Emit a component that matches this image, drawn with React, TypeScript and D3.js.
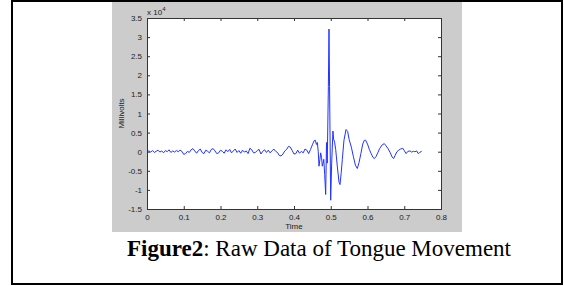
import React, { useEffect, useRef } from "react";
import * as d3 from "d3";

// time (s) and signal (millivolts)
const times: number[] = [
  0, 0.005, 0.01, 0.015, 0.02, 0.025, 0.03, 0.035, 0.04, 0.045,
  0.05, 0.055, 0.06, 0.065, 0.07, 0.075, 0.08, 0.085, 0.09, 0.095,
  0.1, 0.105, 0.11, 0.115, 0.12, 0.125, 0.13, 0.135, 0.14, 0.145,
  0.15, 0.155, 0.16, 0.165, 0.17, 0.175, 0.18, 0.185, 0.19, 0.195,
  0.2, 0.205, 0.21, 0.215, 0.22, 0.225, 0.23, 0.235, 0.24, 0.245,
  0.25, 0.255, 0.26, 0.265, 0.27, 0.275, 0.28, 0.285, 0.29, 0.295,
  0.3, 0.305, 0.31, 0.315, 0.32, 0.325, 0.33, 0.335, 0.34, 0.345,
  0.35, 0.355, 0.36, 0.365, 0.37, 0.375, 0.38, 0.385, 0.39, 0.395,
  0.4, 0.405, 0.41, 0.415, 0.42, 0.425, 0.43, 0.435, 0.44, 0.445,
  0.45, 0.455, 0.458, 0.461, 0.4635, 0.466, 0.468, 0.4705, 0.4726, 0.475,
  0.477, 0.479, 0.481, 0.4835, 0.4862, 0.4885, 0.4905, 0.4935, 0.4952, 0.4968,
  0.4998, 0.5025, 0.506, 0.5078, 0.5105, 0.5134, 0.518, 0.5225, 0.5252, 0.5285,
  0.5315, 0.536, 0.5415, 0.546, 0.55, 0.556, 0.5614, 0.567, 0.5723, 0.577,
  0.582, 0.587, 0.5914, 0.595, 0.6, 0.605, 0.61, 0.615, 0.6186, 0.623,
  0.628, 0.633, 0.64, 0.6458, 0.65, 0.656, 0.662, 0.667, 0.671, 0.675,
  0.68, 0.685, 0.69, 0.696, 0.7, 0.705, 0.71, 0.7156, 0.72, 0.725,
  0.729, 0.734, 0.738, 0.742, 0.7475,
];

const millivolts: number[] = [
  0, 200, -100, 300, -200, 100, 400, -100, 200, -300,
  300, 0, 500, -200, 200, -100, 300, 0, 400, 100,
  -700, -500, 100, -200, 500, 800, 200, -400, 300, 700,
  -200, -500, 400, 100, -300, 600, 800, 200, -500, -300,
  400, 100, -400, 500, 0, 600, -300, 200, 700, -200,
  300, -400, 400, -100, 200, -500, 900, 500, -300, -200,
  300, 600, -600, 100, 500, -200, 400, -300, 200, 700,
  100, -200, -1000, -1100, -600, 200, 600, 1400, 1200, 300,
  -600, -500, 400, -400, 100, -300, 700, 400, -500, 600,
  1800, 2900, 3000, 1900, 2400, 0, -3800, -2000, -300, -1500,
  -3800, -3000, -2000, -6000, -11200, 2400, -3000, 17000, 32100, 17000,
  -12700, -3000, 5400, 3300, 2500, 600, -4000, -8000, -8600, -5500,
  -2000, 3000, 5800, 5300, 3200, 1200, -1200, -3500, -4400, -2800,
  -500, 2000, 3000, 3000, 2000, 600, -500, -1500, -1800, -1300,
  -300, 800, 1800, 2100, 1600, 800, -300, -1400, -1800, -1000,
  0, 400, 700, 900, 300, -500, 100, 200, -100, 100,
  0, 200, -500, -200, 100,
];

const xTicks: number[] = [0, 0.1, 0.2, 0.3, 0.4, 0.5, 0.6, 0.7, 0.8];
const yTicks: number[] = [-15000, -10000, -5000, 0, 5000, 10000, 15000, 20000, 25000, 30000, 35000];

const App = () => {
  const svgRef = useRef<SVGSVGElement>(null);

  useEffect(() => {
    const svg = d3.select(svgRef.current);
    svg.selectAll("*").remove();

    const W = 564, H = 286;
    const plot = { left: 147, right: 441, top: 18, bottom: 209 };

    // outer box of the figure
    svg.append("rect")
      .attr("x", 12).attr("y", 1)
      .attr("width", 550).attr("height", 283)
      .attr("fill", "white")
      .attr("stroke", "black")
      .attr("stroke-width", 2);

    // matlab grey figure background
    svg.append("rect")
      .attr("x", 112).attr("y", 2)
      .attr("width", 350).attr("height", 230)
      .attr("fill", "#cccccc");

    svg.append("rect")
      .attr("x", plot.left).attr("y", plot.top)
      .attr("width", plot.right - plot.left).attr("height", plot.bottom - plot.top)
      .attr("fill", "white");

    const x = d3.scaleLinear().domain([0, 0.8]).range([plot.left, plot.right]);
    const y = d3.scaleLinear().domain([-15000, 35000]).range([plot.bottom, plot.top]);

    const data = times.map((t, i) => ({ t, v: millivolts[i] }));

    const line = d3.line<{ t: number; v: number }>()
      .x(d => x(d.t))
      .y(d => y(d.v));

    svg.append("path")
      .datum(data)
      .attr("d", line)
      .attr("fill", "none")
      .attr("stroke", "#2233ff")
      .attr("stroke-width", 1);

    const font = "Liberation Sans, Arial, sans-serif";
    const axisCol = "#333";

    // axes (ticks inside, mirrored on top/right like matlab)
    const bottomAxis = d3.axisBottom(x).tickValues(xTicks).tickSize(-3).tickPadding(5)
      .tickFormat(d => `${d}`);
    const topAxis = d3.axisTop(x).tickValues(xTicks).tickSize(-3).tickFormat(() => "");
    const leftAxis = d3.axisLeft(y).tickValues(yTicks).tickSize(-3).tickPadding(5)
      .tickFormat(d => `${+d / 10000}`);
    const rightAxis = d3.axisRight(y).tickValues(yTicks).tickSize(-3).tickFormat(() => "");

    const gb = svg.append("g").attr("transform", `translate(0,${plot.bottom})`).call(bottomAxis);
    const gt = svg.append("g").attr("transform", `translate(0,${plot.top})`).call(topAxis);
    const gl = svg.append("g").attr("transform", `translate(${plot.left},0)`).call(leftAxis);
    const gr = svg.append("g").attr("transform", `translate(${plot.right},0)`).call(rightAxis);

    [gb, gt, gl, gr].forEach(g => {
      g.select(".domain").attr("stroke", axisCol).attr("stroke-width", 1);
      g.selectAll(".tick line").attr("stroke", axisCol);
      g.selectAll("text")
        .attr("fill", "#222")
        .style("font-family", font)
        .style("font-size", "8px");
    });

    // exponent label
    const ex = svg.append("text")
      .attr("x", 147).attr("y", 15)
      .style("font-family", font).style("font-size", "8px")
      .attr("fill", "#222");
    ex.append("tspan").text("x 10");
    ex.append("tspan").attr("dy", -4).style("font-size", "6px").text("4");

    svg.append("text")
      .attr("transform", `translate(124,${(plot.top + plot.bottom) / 2}) rotate(-90)`)
      .attr("text-anchor", "middle")
      .style("font-family", font).style("font-size", "8px")
      .attr("fill", "#222")
      .text("Millivolts");

    svg.append("text")
      .attr("x", (plot.left + plot.right) / 2).attr("y", 229)
      .attr("text-anchor", "middle")
      .style("font-family", font).style("font-size", "8px")
      .attr("fill", "#222")
      .text("Time");

    // caption
    const cap = svg.append("text")
      .attr("x", 127).attr("y", 256)
      .style("font-family", "Liberation Serif, Times New Roman, serif")
      .style("font-size", "23px")
      .attr("fill", "black");
    cap.append("tspan").style("font-weight", "bold").text("Figure2");
    cap.append("tspan").text(": Raw Data of Tongue Movement");

    svg.attr("width", W).attr("height", H);
  }, []);

  return <svg ref={svgRef} style={{ position: "absolute", left: 0, top: 0 }}></svg>;
};

export default App;
